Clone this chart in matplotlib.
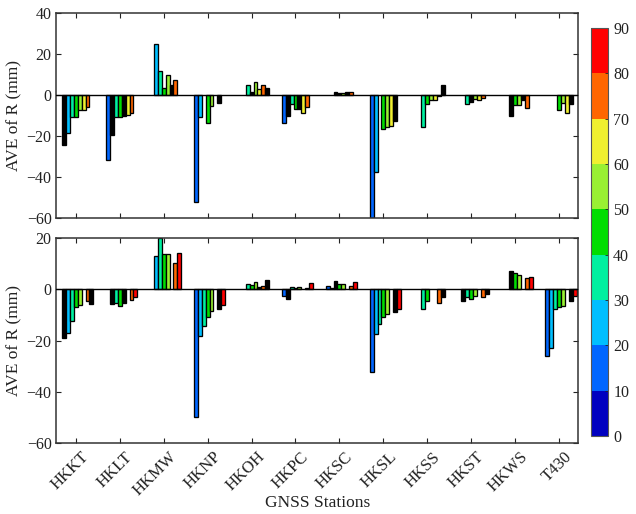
import numpy as np
import matplotlib
matplotlib.use("Agg")
import matplotlib.pyplot as plt
import matplotlib.transforms as mtransforms
from matplotlib.colors import ListedColormap, BoundaryNorm
from matplotlib.colorbar import ColorbarBase

plt.rcParams['font.family'] = ['Liberation Serif', 'DejaVu Serif']

nan = np.nan

stations = ["HKKT", "HKLT", "HKMW", "HKNP", "HKOH", "HKPC",
            "HKSC", "HKSL", "HKSS", "HKST", "HKWS", "T430"]

# elevation-angle bins (deg): 0-10, 10-20, ..., 80-90
elev_edges = [0, 10, 20, 30, 40, 50, 60, 70, 80, 90]
bin_colors = ["#0000C0", "#0066FF", "#00BFFF", "#00F0A0", "#00DD00",
              "#99F033", "#F0F030", "#FF6600", "#FF0000"]

# mean residual per station and elevation bin (mm), upper panel
ave_upper = [
    [nan, -24.5, -18.5, -11.0, -11.0, -7.6, -7.6, -6.2, nan],   # HKKT
    [nan, -32.0, -19.7, -10.9, -10.9, -10.5, -10.1, -8.9, nan], # HKLT
    [nan, nan, 24.8, 11.5, 3.1, 9.6, 5.0, 7.3, nan],            # HKMW
    [nan, -52.4, -11.0, nan, -13.7, -5.3, nan, -4.0, nan],      # HKNP
    [nan, nan, nan, 4.7, 1.5, 6.5, 2.6, 4.6, 3.3],              # HKOH
    [nan, -13.7, -10.5, -4.4, -6.7, -6.9, -8.9, -6.2, nan],     # HKPC
    [nan, nan, nan, 1.4, 1.0, 0.9, 1.5, 1.5, nan],              # HKSC
    [nan, -60.0, -37.6, nan, -16.9, -15.9, -15.3, -12.8, nan],  # HKSL
    [nan, nan, nan, -15.9, -4.3, -2.5, -2.3, -0.8, 5.0],        # HKSS
    [nan, nan, nan, -4.5, -3.7, -2.2, -2.6, -1.5, nan],         # HKST
    [nan, nan, nan, -10.5, -5.1, -4.8, -2.5, -6.3, nan],        # HKWS
    [nan, nan, nan, nan, -7.2, -4.0, -8.9, -4.6, nan],          # T430
]

# mean residual per station and elevation bin (mm), lower panel
ave_lower = [
    [nan, -19.2, -17.2, -12.5, -7.0, -6.0, nan, -4.7, -5.8],    # HKKT
    [nan, nan, -5.7, -5.5, -6.5, -5.2, nan, -4.3, -3.0],        # HKLT
    [nan, nan, 12.9, 20.0, 13.9, 13.9, nan, 10.3, 14.2],        # HKMW
    [nan, -49.9, -18.3, -14.2, -11.0, -8.4, nan, -7.7, -6.1],   # HKNP
    [nan, nan, nan, 2.2, 1.5, 2.8, 1.0, 1.3, 3.8],              # HKOH
    [nan, -2.5, -3.9, 1.0, 0.6, 0.9, nan, 0.4, 2.3],            # HKPC
    [nan, 1.3, 0.6, 3.1, 2.1, 2.1, nan, 1.3, 3.0],              # HKSC
    [nan, -32.1, -17.4, -13.7, -10.8, -9.5, nan, -9.0, -7.6],   # HKSL
    [nan, nan, nan, -7.7, -4.4, nan, nan, -5.2, -3.2],          # HKSS
    [nan, nan, -4.5, -3.1, -3.6, -2.6, nan, -3.0, -1.7],        # HKST
    [nan, nan, nan, 7.1, 6.2, 5.5, nan, 4.5, 4.9],              # HKWS
    [nan, -26.2, -23.0, -7.7, -7.1, -6.7, nan, -4.4, -2.8],     # T430
]

# bins flagged (drawn in black) per station: (station index, bin index)
flag_upper = [(0, 1), (1, 2), (1, 5), (2, 6), (3, 7), (4, 4), (4, 8),
              (5, 2), (5, 5), (6, 3), (6, 4), (6, 6), (7, 7), (8, 7),
              (8, 8), (9, 4), (10, 3), (10, 6), (11, 7)]
flag_lower = [(0, 1), (0, 8), (1, 2), (1, 5), (3, 7), (4, 6), (4, 8),
              (5, 2), (5, 4), (5, 7), (6, 2), (6, 3), (7, 7), (8, 8),
              (9, 2), (9, 8), (10, 3), (11, 7)]

n_bins = len(bin_colors)
group_w = 0.8
bar_w = group_w / n_bins
x = np.arange(1, len(stations) + 1)


def draw_panel(ax, values, flags, ylim, yticks):
    vals = np.array(values, dtype=float)
    flagged = set(flags)
    for j in range(n_bins):
        xs = x - group_w / 2 + (j + 0.5) * bar_w
        cols = ["#000000" if (i, j) in flagged else bin_colors[j]
                for i in range(len(stations))]
        ok = ~np.isnan(vals[:, j])
        ax.bar(xs[ok], vals[ok, j], width=bar_w, color=np.array(cols)[ok],
               edgecolor="black", linewidth=0.95, zorder=2)
    ax.axhline(0, color="black", lw=1.0, zorder=3)
    ax.set_xlim(0.56, 12.43)
    ax.set_ylim(*ylim)
    ax.set_yticks(yticks)
    ax.set_xticks(x)
    ax.tick_params(direction="in", length=3.5, width=0.8, top=True,
                   right=True, labelsize=11.5, colors="#222222",
                   labelcolor="#222222")
    for s in ax.spines.values():
        s.set_color("#333333")
        s.set_linewidth(1.1)
    ax.set_ylabel("AVE of R (mm)", fontsize=12.5, color="#222222", labelpad=3)


fig = plt.figure(figsize=(6.36, 5.14), dpi=100)
ax1 = fig.add_axes([0.0888, 0.5768, 0.8200, 0.3979])
ax2 = fig.add_axes([0.0888, 0.1381, 0.8200, 0.3988])
cax = fig.add_axes([0.9288, 0.1518, 0.0277, 0.7937])

draw_panel(ax1, ave_upper, flag_upper, (-60, 40), [-60, -40, -20, 0, 20, 40])
draw_panel(ax2, ave_lower, flag_lower, (-60, 20), [-60, -40, -20, 0, 20])

ax1.set_xticklabels([])
ax2.set_xticklabels(stations, rotation=45, ha="right", va="top",
                    rotation_mode="anchor", fontsize=12)
shift = mtransforms.ScaledTranslation(5 / 100, -1 / 100, fig.dpi_scale_trans)
for lab in ax2.get_xticklabels():
    lab.set_transform(lab.get_transform() + shift)
ax2.set_xlabel("GNSS Stations", fontsize=12.5, color="#222222", labelpad=-3)

cmap = ListedColormap(bin_colors)
norm = BoundaryNorm(elev_edges, cmap.N)
cb = ColorbarBase(cax, cmap=cmap, norm=norm, ticks=elev_edges,
                  orientation="vertical")
cb.outline.set_edgecolor("#555555")
cb.outline.set_linewidth(0.8)
cax.tick_params(direction="in", length=2, width=0.6, labelsize=11.5,
                colors="#222222", labelcolor="#222222")

fig.savefig("out.png", dpi=100, facecolor="white")
